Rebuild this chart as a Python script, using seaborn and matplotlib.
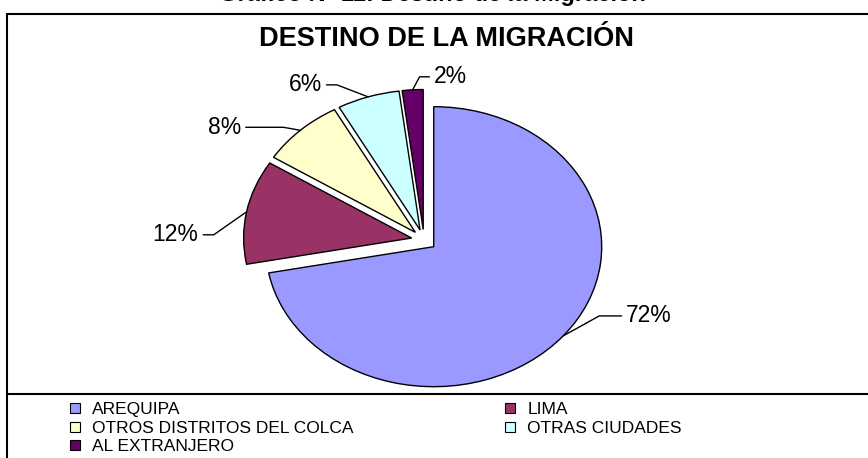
import matplotlib
matplotlib.use("Agg")
import matplotlib.pyplot as plt
import seaborn as sns
import numpy as np
from matplotlib.lines import Line2D

# data
categories = ["AREQUIPA", "LIMA", "OTROS DISTRITOS DEL COLCA", "OTRAS CIUDADES", "AL EXTRANJERO"]
shares = [72, 12, 8, 6, 2]
pct_labels = ["72%", "12%", "8%", "6%", "2%"]
colors = ["#9999FF", "#993366", "#FFFFCC", "#CCFFFF", "#660066"]

# label placement: text offset from the slice edge (pixels) and leader slant
label_offsets = [(86, 20), (-71, -23), (-76, 3), (-63, 12), (38, 13)]
leader_angles = [29, 215, 170, 159, 62]

sns.set_theme(style="white")
plt.rcParams["font.family"] = ["Liberation Sans", "DejaVu Sans"]
plt.rcParams["text.color"] = "black"

W, H = 868, 458
fig = plt.figure(figsize=(W / 100, H / 100), dpi=100)
ax = fig.add_axes([0, 0, 1, 1])

wedges, _ = ax.pie(
    shares,
    colors=colors,
    startangle=90,
    counterclock=False,
    explode=[0.075] * len(shares),
    wedgeprops=dict(edgecolor="black", linewidth=1),
)
# stretched pie like the original sheet chart
ax.set_aspect("auto")
cx, cy, rx, ry = 424, 240, 168, 140
ax.set_xlim(-cx / rx, (W - cx) / rx)
ax.set_ylim(-(H - cy) / ry, cy / ry)
ax.axis("off")

for w, lab, off, ang in zip(wedges, pct_labels, label_offsets, leader_angles):
    mid = np.deg2rad((w.theta1 + w.theta2) / 2)
    x0 = w.center[0] + w.r * np.cos(mid)
    y0 = w.center[1] + w.r * np.sin(mid)
    ax.annotate(
        lab,
        xy=(x0, y0),
        xytext=off,
        textcoords="offset pixels",
        ha="center",
        va="center",
        fontsize=16.5,
        color="black",
        arrowprops=dict(
            arrowstyle="-",
            color="black",
            lw=1,
            shrinkA=1,
            shrinkB=0,
            connectionstyle=f"angle,angleA=0,angleB={ang},rad=0",
        ),
    )

# chart frame (cropped on the right and bottom)
fy_top = 1 - 14 / H
fy_leg = 1 - 394 / H
fx_left = 7 / W
fig.add_artist(Line2D([fx_left, fx_left], [0, fy_top], transform=fig.transFigure, color="black", lw=1.5))
fig.add_artist(Line2D([fx_left, 1], [fy_top, fy_top], transform=fig.transFigure, color="black", lw=1.5))
fig.add_artist(Line2D([fx_left, 1], [fy_leg, fy_leg], transform=fig.transFigure, color="black", lw=1.5))

# page caption above the chart, mostly cut off by the crop
fig.text(432 / W, 1 - 1 / H, "Gráfico Nº 11: Destino de la Migración",
         ha="center", va="baseline", fontsize=17, fontweight="bold")
fig.text(446 / W, 1 - 39 / H, "DESTINO DE LA MIGRACIÓN",
         ha="center", va="center", fontsize=19.5, fontweight="bold")

# legend rows read left to right
order = [0, 2, 4, 1, 3]
handles = [
    Line2D([], [], marker="s", linestyle="none", markersize=6.5,
           markerfacecolor=colors[i], markeredgecolor="black", markeredgewidth=0.8)
    for i in order
]
fig.legend(
    handles,
    [categories[i] for i in order],
    ncol=2,
    loc="upper left",
    bbox_to_anchor=(68 / W, 1 - 402 / H),
    frameon=False,
    fontsize=12.5,
    handlelength=0.8,
    handletextpad=0.6,
    columnspacing=8.6,
    labelspacing=0.19,
    borderpad=0,
    borderaxespad=0,
)

fig.savefig("out.png", dpi=100)
